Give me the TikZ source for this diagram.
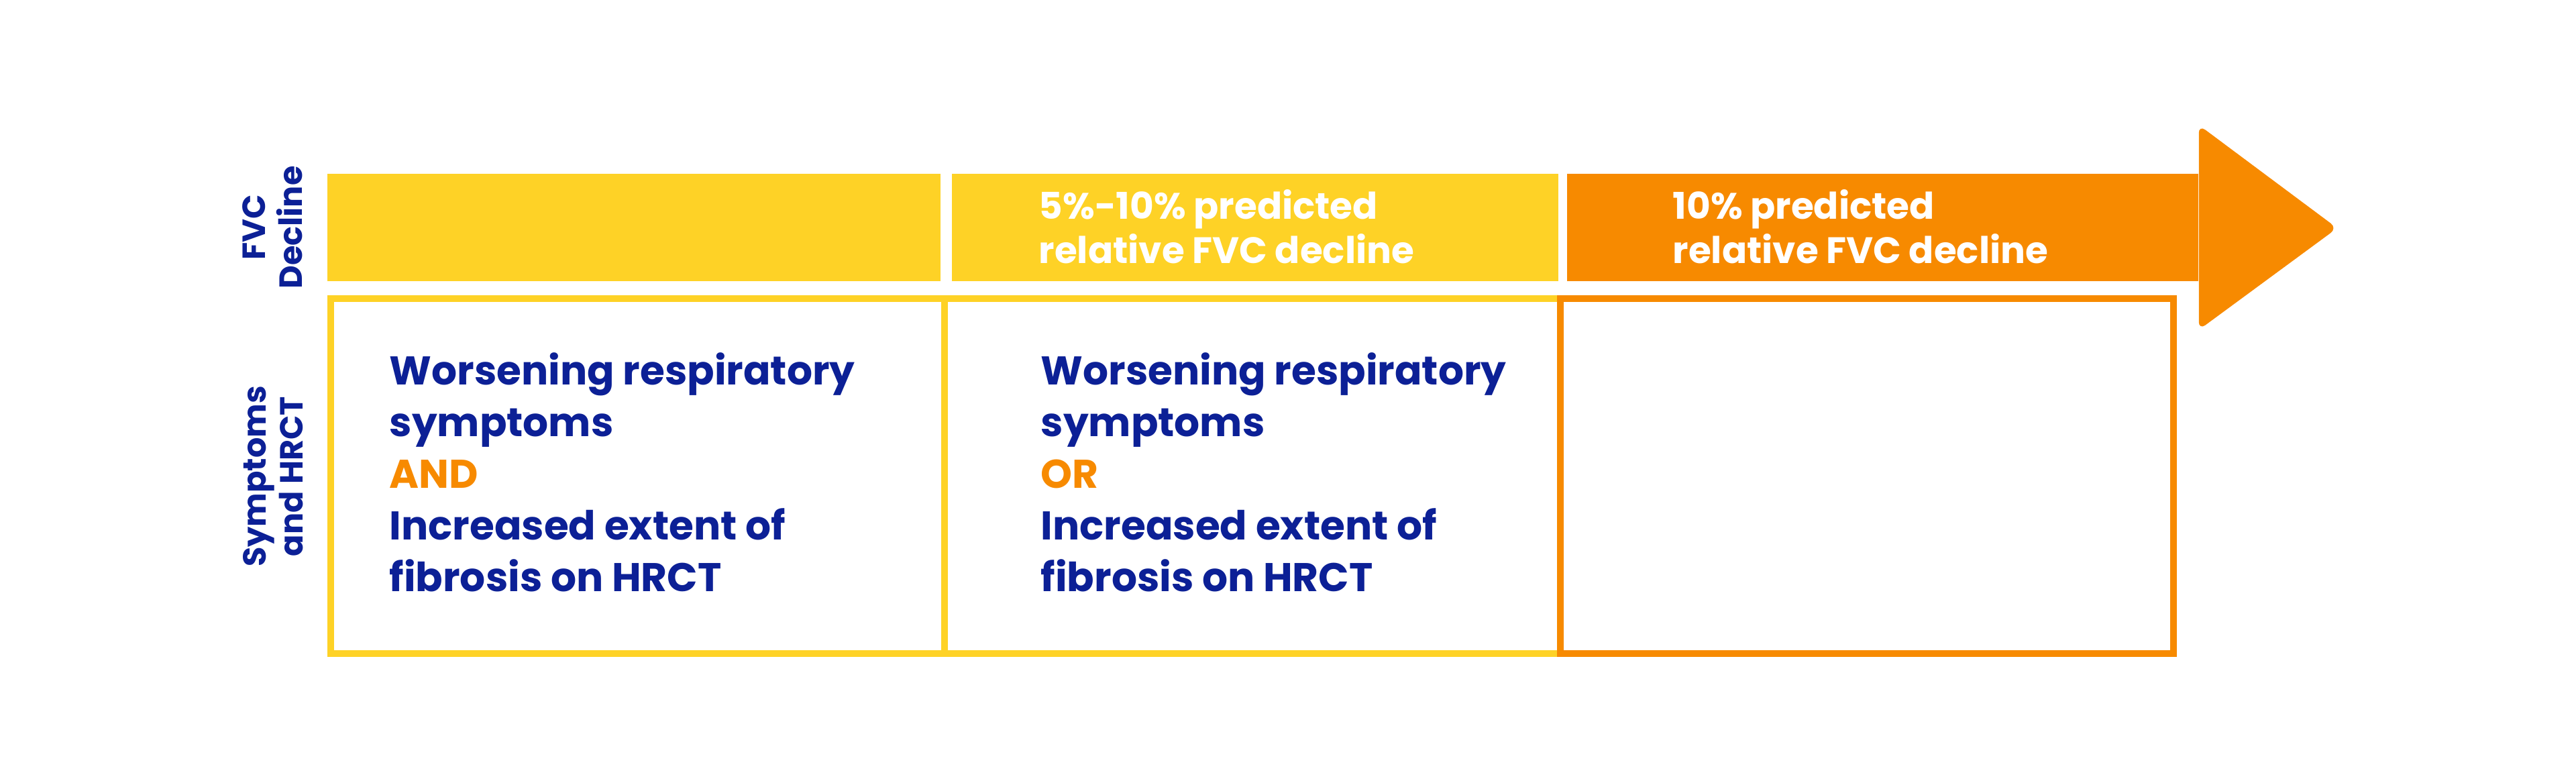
\documentclass[tikz,border=0pt]{standalone}
\usepackage{fontspec}
\setmainfont{Poppins}
\usepackage{tikz}
\usetikzlibrary{positioning}
\definecolor{yellow1}{RGB}{254,210,38}
\definecolor{orange1}{RGB}{247,138,0}
\definecolor{blue1}{RGB}{12,32,150}

\begin{document}
\begin{tikzpicture}[x=1cm,y=1cm]
  \tikzstyle{bar}=[fill=yellow1,draw=none,inner sep=0,minimum height=1.6cm]
  \tikzstyle{box}=[draw=yellow1,line width=0.1cm,inner sep=0,minimum height=5.29cm]
  \tikzstyle{rowlabel}=[text=blue1,font=\bfseries\fontsize{13.6}{15.6}\selectfont,
                        align=center,rotate=90,inner sep=0]
  \tikzstyle{bartext}=[text=white,font=\bfseries\fontsize{15.6}{18.8}\selectfont,
                       align=left,anchor=north west,inner sep=0]
  \tikzstyle{boxtext}=[text=blue1,font=\bfseries\fontsize{17}{21.9}\selectfont,
                       align=left,anchor=north west,inner sep=0]

  \useasboundingbox (0,0) rectangle (38.4,11.52);

  % FVC decline row
  \node[bar, minimum width=9.14cm]             (bar1) at (9.45, 8.13)  {};
  \node[bar, minimum width=9.04cm]             (bar2) at (18.71, 8.13) {};
  \node[bar, fill=orange1, minimum width=9.41cm] (bar3) at (28.065, 8.13) {};
  \coordinate (tip) at (34.84, 8.12);
  \fill[orange1, rounded corners=0.12cm] ([yshift=0.72cm]bar3.north east)
       -- (tip) -- ([yshift=-0.72cm]bar3.south east) -- cycle;

  % symptoms row
  \node[box, minimum width=9.15cm]             (box1) at (9.505, 4.425) {};
  \node[box, minimum width=9.18cm]             (box2) at (18.67, 4.425) {};
  \node[box, draw=orange1, minimum width=9.14cm] (box3) at (27.83, 4.425) {};

  \node[rowlabel] (fvclabel) at (4.06, 8.13) {FVC\\Decline};
  \node[rowlabel] (symlabel) at (4.07, 4.42) {Symptoms\\and HRCT};

  \node[bartext] (crit2) at (15.48, 8.70) {5\%-10\% predicted\\relative FVC decline};
  \node[bartext] (crit3) at (24.93, 8.70) {10\% predicted\\relative FVC decline};

  \node[boxtext] (sym1) at (5.80, 6.27)
       {Worsening respiratory\\symptoms\\\textcolor{orange1}{AND}\\Increased extent of\\fibrosis on HRCT};
  \node[boxtext] (sym2) at (15.51, 6.27)
       {Worsening respiratory\\symptoms\\\textcolor{orange1}{OR}\\Increased extent of\\fibrosis on HRCT};
\end{tikzpicture}
\end{document}
